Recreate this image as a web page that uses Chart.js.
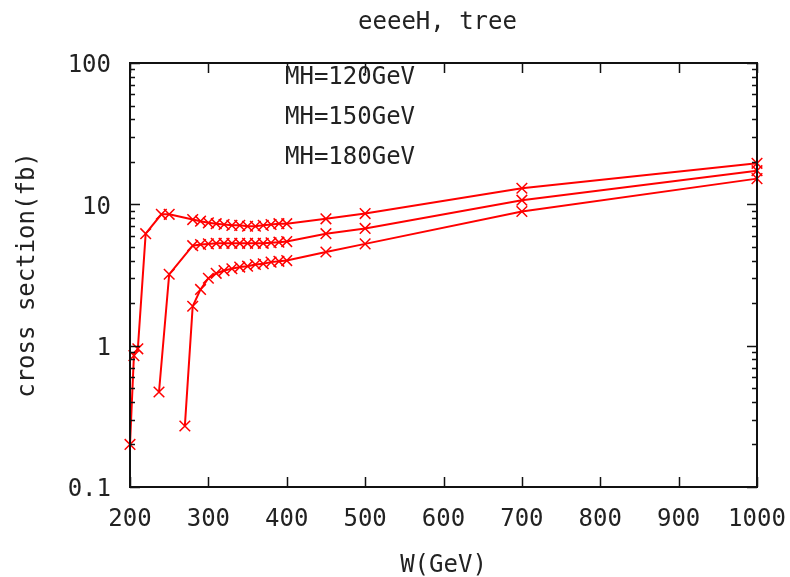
<!DOCTYPE html>
<html>
<head>
<meta charset="utf-8">
<script src="https://cdn.jsdelivr.net/npm/chart.js@4/dist/chart.umd.min.js"></script>
<style>
  html, body { margin: 0; padding: 0; background: #fff; }
  #c { display: block; }
</style>
</head>
<body>
<canvas id="c" width="790" height="577"></canvas>
<script>
// ---- data ----
const titleText = "eeeeH, tree";
const xTitle = "W(GeV)";
const yTitle = "cross section(fb)";
const seriesNames = ["MH=120GeV", "MH=150GeV", "MH=180GeV"];

const w120 = [200, 205, 210, 220, 240, 250, 280, 290, 300, 310, 320, 330, 340, 350, 360, 370, 380, 390, 400, 450, 500, 700, 1000];
const s120 = [0.2, 0.85, 0.95, 6.2, 8.5, 8.5, 7.8, 7.6, 7.4, 7.3, 7.2, 7.1, 7.1, 7.0, 7.0, 7.1, 7.2, 7.3, 7.3, 7.9, 8.6, 13.0, 19.5];

const w150 = [237, 250, 280, 290, 300, 310, 320, 330, 340, 350, 360, 370, 380, 390, 400, 450, 500, 700, 1000];
const s150 = [0.47, 3.2, 5.1, 5.2, 5.25, 5.3, 5.3, 5.3, 5.3, 5.3, 5.3, 5.3, 5.35, 5.4, 5.45, 6.2, 6.75, 10.7, 17.3];

const w180 = [270, 280, 290, 300, 310, 320, 330, 340, 350, 360, 370, 380, 390, 400, 450, 500, 700, 1000];
const s180 = [0.27, 1.9, 2.5, 3.0, 3.25, 3.4, 3.5, 3.6, 3.65, 3.75, 3.8, 3.9, 3.95, 4.0, 4.6, 5.25, 8.9, 15.2];

const xTicks = [200, 300, 400, 500, 600, 700, 800, 900, 1000];
const yTicks = [0.1, 1, 10, 100];
const yTickLabels = ["0.1", "1", "10", "100"];

// ---- build ----
const FONT = "'DejaVu Sans Mono', 'Liberation Mono', monospace";
const TXT = "#222";
const RED = "#ff0000";
const toPts = (xs, ys) => xs.map((x, i) => ({ x: x, y: ys[i] }));

function ds(label, xs, ys) {
  return {
    label: label,
    data: toPts(xs, ys),
    borderColor: RED,
    backgroundColor: RED,
    borderWidth: 2,
    pointStyle: 'crossRot',
    pointRadius: 7.5,
    pointBorderWidth: 1.5,
    pointBorderColor: RED,
    pointHoverRadius: 7.5,
    tension: 0,
    clip: false
  };
}

const framePlugin = {
  id: 'frame',
  afterDraw(chart) {
    const ctx = chart.ctx;
    const a = chart.chartArea;
    const xs = chart.scales.x, ys = chart.scales.y;
    ctx.save();
    ctx.strokeStyle = '#111';
    ctx.lineWidth = 1.5;
    ctx.beginPath();
    xTicks.forEach(v => {
      const p = Math.round(xs.getPixelForValue(v)) + 0.5;
      ctx.moveTo(p, a.bottom); ctx.lineTo(p, a.bottom - 10);
      ctx.moveTo(p, a.top); ctx.lineTo(p, a.top + 10);
    });
    for (let d = 0; d < yTicks.length; d++) {
      const base = yTicks[d];
      const p = Math.round(ys.getPixelForValue(base)) + 0.5;
      ctx.moveTo(a.left, p); ctx.lineTo(a.left + 10, p);
      ctx.moveTo(a.right, p); ctx.lineTo(a.right - 10, p);
      if (d < yTicks.length - 1) {
        for (let m = 2; m <= 9; m++) {
          const q = Math.round(ys.getPixelForValue(base * m)) + 0.5;
          ctx.moveTo(a.left, q); ctx.lineTo(a.left + 5, q);
          ctx.moveTo(a.right, q); ctx.lineTo(a.right - 5, q);
        }
      }
    }
    ctx.stroke();
    ctx.lineWidth = 2;
    ctx.strokeRect(a.left, a.top, a.right - a.left, a.bottom - a.top);
    ctx.fillStyle = TXT;
    ctx.font = "24px " + FONT;
    ctx.textAlign = 'center';
    ctx.textBaseline = 'middle';
    ctx.fillText(titleText, (a.left + a.right) / 2 - 6, 23);
    ctx.textAlign = 'left';
    chart.data.datasets.forEach((d, i) => {
      ctx.fillText(d.label, 285, 78 + i * 40);
    });
    ctx.restore();
  }
};

new Chart(document.getElementById('c'), {
  type: 'line',
  data: {
    datasets: [ds(seriesNames[0], w120, s120), ds(seriesNames[1], w150, s150), ds(seriesNames[2], w180, s180)]
  },
  plugins: [framePlugin],
  options: {
    responsive: false,
    animation: false,
    devicePixelRatio: 1,
    layout: { padding: { top: 63, right: 33, left: 0, bottom: 0 } },
    plugins: { legend: { display: false }, tooltip: { enabled: false }, title: { display: false } },
    scales: {
      x: {
        type: 'linear',
        min: 200, max: 1000,
        afterFit(s) { s.height = 90; s.paddingLeft = 0; s.paddingRight = 0; },
        afterBuildTicks(s) { s.ticks = xTicks.map(v => ({ value: v })); },
        grid: { display: false, drawTicks: false },
        border: { display: false },
        ticks: { color: TXT, font: { family: FONT, size: 24 }, padding: 18, maxRotation: 0, autoSkip: false, callback: v => String(v) },
        title: { display: true, text: xTitle, color: TXT, font: { family: FONT, size: 24 }, padding: { top: 0, bottom: -3 } }
      },
      y: {
        type: 'logarithmic',
        min: 0.1, max: 100,
        afterFit(s) { s.width = 130; s.paddingTop = 0; s.paddingBottom = 0; },
        afterBuildTicks(s) { s.ticks = yTicks.map(v => ({ value: v })); },
        grid: { display: false, drawTicks: false },
        border: { display: false },
        ticks: { color: TXT, font: { family: FONT, size: 24 }, padding: 19, labelOffset: 3, autoSkip: false,
                 callback: (v) => { const i = yTicks.findIndex(t => Math.abs(t - v) / t < 1e-6); return i >= 0 ? yTickLabels[i] : ''; } },
        title: { display: true, text: yTitle, color: TXT, font: { family: FONT, size: 24 }, padding: { top: 13, bottom: 0 } }
      }
    }
  }
});
</script>
</body>
</html>
